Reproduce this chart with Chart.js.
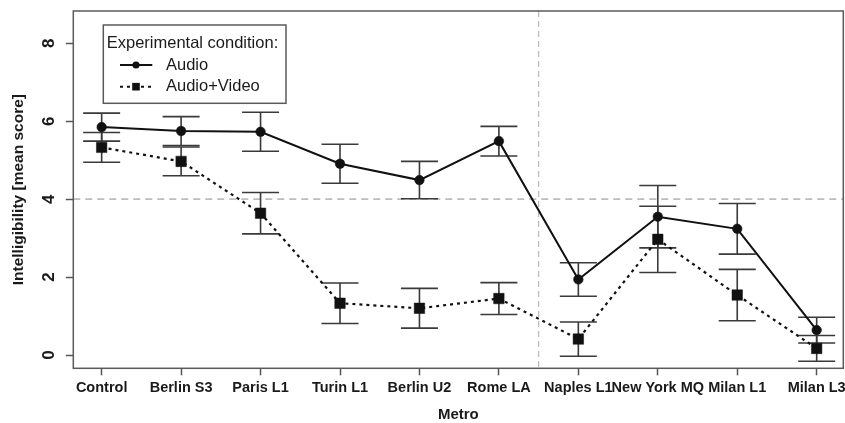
<!DOCTYPE html>
<html>
<head>
<meta charset="utf-8">
<script src="https://cdn.jsdelivr.net/npm/chart.js"></script>
<style>
  html, body { margin: 0; padding: 0; background: #fff; }
  #wrap { width: 845px; height: 423px; }
</style>
</head>
<body>
<div id="wrap"><canvas id="c" width="845" height="423"></canvas></div>
<script>
// Metro lines compared, with mean intelligibility scores and error margins
const categories = ['Control', 'Berlin S3', 'Paris L1', 'Turin L1', 'Berlin U2', 'Rome LA',
                    'Naples L1', 'New York MQ', 'Milan L1', 'Milan L3'];
const audioMean = [5.85, 5.75, 5.73, 4.91, 4.49, 5.49, 1.94, 3.55, 3.24, 0.64];
const audioErr  = [0.36, 0.37, 0.50, 0.50, 0.48, 0.38, 0.43, 0.80, 0.65, 0.33];
const avMean    = [5.33, 4.97, 3.64, 1.33, 1.20, 1.45, 0.41, 2.97, 1.54, 0.17];
const avErr     = [0.38, 0.37, 0.53, 0.52, 0.51, 0.41, 0.44, 0.85, 0.66, 0.33];
const yTicks = [0, 2, 4, 6, 8];
const threshold = 4;      // horizontal reference level
const groupDivider = 6.5; // separates the two groups of metros (after Rome LA)

const FONT = "'Liberation Sans', Arial, Helvetica, sans-serif";
const errors = [audioErr, avErr];

const refLines = {
  id: 'refLines',
  beforeDatasetsDraw(chart) {
    const {ctx, chartArea: a, scales: {x, y}} = chart;
    ctx.save();
    ctx.strokeStyle = '#bdbdbd';
    ctx.setLineDash([7, 5]);
    ctx.lineWidth = 1.8;
    const py = y.getPixelForValue(threshold);
    ctx.beginPath(); ctx.moveTo(a.left, py); ctx.lineTo(a.right, py); ctx.stroke();
    ctx.lineWidth = 1.3;
    ctx.setLineDash([6, 4]);
    const px = x.getPixelForValue(groupDivider);
    ctx.beginPath(); ctx.moveTo(px, a.top); ctx.lineTo(px, a.bottom); ctx.stroke();
    ctx.restore();
  }
};

const errorBars = {
  id: 'errorBars',
  beforeDatasetsDraw(chart) {
    const {ctx, scales: {x, y}} = chart;
    ctx.save();
    ctx.strokeStyle = '#3a3a3a';
    ctx.lineWidth = 1.6;
    ctx.setLineDash([]);
    chart.data.datasets.forEach((ds, di) => {
      ds.data.forEach((p, i) => {
        const e = errors[di][i];
        const px = x.getPixelForValue(p.x);
        const top = y.getPixelForValue(p.y + e);
        const bot = y.getPixelForValue(p.y - e);
        const w = 18.5;
        ctx.beginPath();
        ctx.moveTo(px, top); ctx.lineTo(px, bot);
        ctx.moveTo(px - w, top); ctx.lineTo(px + w, top);
        ctx.moveTo(px - w, bot); ctx.lineTo(px + w, bot);
        ctx.stroke();
      });
    });
    ctx.restore();
  }
};

const frameAndLegend = {
  id: 'frameAndLegend',
  afterDraw(chart) {
    const {ctx, chartArea: a} = chart;
    ctx.save();
    // plot frame
    ctx.strokeStyle = '#5a5a5a';
    ctx.lineWidth = 1.5;
    ctx.setLineDash([]);
    ctx.strokeRect(a.left, a.top, a.right - a.left, a.bottom - a.top);

    // legend box
    const bx = 103.3, by = 25, bw = 182.7, bh = 78.3;
    ctx.fillStyle = '#fff';
    ctx.fillRect(bx, by, bw, bh);
    ctx.strokeRect(bx, by, bw, bh);
    ctx.fillStyle = '#1a1a1a';
    ctx.font = `16.5px ${FONT}`;
    ctx.textBaseline = 'middle';
    ctx.textAlign = 'left';
    ctx.fillText('Experimental condition:', 106.7, 43);
    const rows = [65, 86.7];
    chart.data.datasets.forEach((ds, i) => {
      const yy = rows[i];
      ctx.strokeStyle = '#111';
      ctx.lineWidth = 2;
      ctx.setLineDash(ds.borderDash || []);
      ctx.beginPath(); ctx.moveTo(120, yy); ctx.lineTo(152.3, yy); ctx.stroke();
      ctx.setLineDash([]);
      ctx.fillStyle = '#111';
      if (ds.pointStyle === 'rect') {
        ctx.fillRect(136 - 3.8, yy - 3.8, 7.6, 7.6);
      } else {
        ctx.beginPath(); ctx.arc(136, yy, 3.6, 0, Math.PI * 2); ctx.fill();
      }
      ctx.fillStyle = '#1a1a1a';
      ctx.fillText(ds.label, 166, yy);
    });
    ctx.restore();
  }
};

new Chart(document.getElementById('c'), {
  type: 'line',
  data: {
    datasets: [
      {
        label: 'Audio',
        data: audioMean.map((v, i) => ({x: i + 1, y: v})),
        borderColor: '#111', backgroundColor: '#111',
        borderWidth: 2,
        pointStyle: 'circle', pointRadius: 4.8,
        pointBackgroundColor: '#111', pointBorderColor: '#111', pointBorderWidth: 0.5,
        tension: 0
      },
      {
        label: 'Audio+Video',
        data: avMean.map((v, i) => ({x: i + 1, y: v})),
        borderColor: '#111', backgroundColor: '#111',
        borderWidth: 2.2, borderDash: [3, 4],
        pointStyle: 'rect', pointRadius: 7.4,
        pointBackgroundColor: '#111', pointBorderColor: '#111', pointBorderWidth: 0.5,
        tension: 0
      }
    ]
  },
  options: {
    responsive: false,
    animation: false,
    devicePixelRatio: 1,
    layout: { autoPadding: false, padding: { top: 11, right: 1.7, left: 0, bottom: 0 } },
    plugins: { legend: { display: false }, tooltip: { enabled: false } },
    scales: {
      x: {
        type: 'linear',
        min: 0.643, max: 10.335,
        afterBuildTicks: s => { s.ticks = categories.map((c, i) => ({value: i + 1})); },
        afterFit: s => { s.height = 54.7; s.paddingLeft = 0; s.paddingRight = 0; },
        border: { display: false },
        grid: { drawOnChartArea: false, drawTicks: true, tickLength: 7, tickColor: '#555', tickWidth: 1.5 },
        ticks: {
          autoSkip: false, maxRotation: 0, minRotation: 0, padding: 0,
          color: '#1a1a1a',
          font: { family: FONT, size: 14.5, weight: 'bold', lineHeight: 1.79 },
          callback: v => categories[Math.round(v) - 1]
        },
        title: {
          display: true, text: 'Metro', color: '#1a1a1a',
          font: { family: FONT, size: 15, weight: 'bold', lineHeight: 1 },
          padding: { top: 0, bottom: 1 }
        }
      },
      y: {
        type: 'linear',
        min: -0.34, max: 8.83,
        afterBuildTicks: s => { s.ticks = yTicks.map(v => ({value: v})); },
        afterFit: s => { s.width = 73.3; s.paddingTop = 0; s.paddingBottom = 0; },
        border: { display: false },
        grid: { drawOnChartArea: false, drawTicks: true, tickLength: 7.5, tickColor: '#555', tickWidth: 1.5 },
        ticks: {
          minRotation: 90, maxRotation: 90, crossAlign: 'center', padding: 12,
          color: '#1a1a1a',
          font: { family: FONT, size: 17, weight: 'bold' },
          callback: v => String(v)
        },
        title: {
          display: true, text: 'Intelligibility [mean score]', color: '#1a1a1a',
          font: { family: FONT, size: 15.5, weight: 'bold', lineHeight: 1.2 },
          padding: { top: 9, bottom: 0 }
        }
      }
    }
  },
  plugins: [refLines, errorBars, frameAndLegend]
});
</script>
</body>
</html>
